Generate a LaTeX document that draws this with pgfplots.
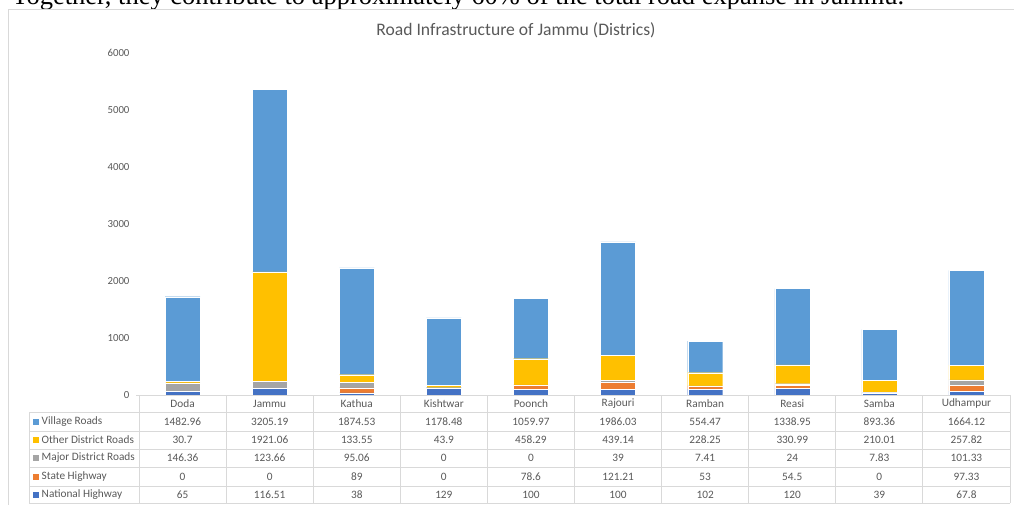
\documentclass[border=0pt]{standalone}
\usepackage{pgfplots}
\pgfplotsset{compat=1.18}
\usepackage{fontspec}
\setmainfont{Carlito}
\newfontfamily\timesfont{Liberation Serif}
\definecolor{vil}{HTML}{5B9BD5}
\definecolor{odr}{HTML}{FFC000}
\definecolor{mdr}{HTML}{A5A5A5}
\definecolor{sh}{HTML}{ED7D31}
\definecolor{nh}{HTML}{4472C4}
\definecolor{txt}{HTML}{595959}
\definecolor{gridc}{HTML}{D9D9D9}
\begin{document}
\begin{tikzpicture}
\useasboundingbox (0pt,0pt) rectangle (1014pt,-504pt);
\clip (0pt,0pt) rectangle (1014pt,-504pt);
\begin{scope}[x=1pt,y=-1pt]
\node[anchor=base west, inner sep=0, font=\timesfont\fontsize{26.5}{30}\selectfont] at (12,4.5) {Together, they contribute to approximately 60\% of the total road expanse in Jammu.};
\draw[gridc, line width=1pt] (8,9) rectangle (1030,530);
\node[font=\fontsize{17.6}{20}\selectfont, text=txt, anchor=base, inner sep=0] at (516,35) {Road Infrastructure of Jammu (Districs)};
\end{scope}
\begin{axis}[
  at={(139pt,-395pt)}, anchor=south west,
  scale only axis, width=871pt, height=342pt,
  xmin=-0.5, xmax=9.5, ymin=0, ymax=6000,
  ybar stacked, bar width=35pt,
  axis line style={draw=none},
  hide x axis,
  ytick={0,1000,2000,3000,4000,5000,6000},
  major tick length=0pt,
  /pgf/number format/1000 sep={},
  /pgf/number format/assume math mode=true,
  yticklabel style={font=\fontsize{10.8}{12}\selectfont, text=txt, xshift=-6pt},
  clip=false,
]
\addplot[fill=nh, draw=white, line width=0.3pt] coordinates {(0,65) (1,116.51) (2,38) (3,129) (4,100) (5,100) (6,102) (7,120) (8,39) (9,67.8)};
\addplot[fill=sh, draw=white, line width=0.3pt] coordinates {(0,0) (1,0) (2,89) (3,0) (4,78.6) (5,121.21) (6,53) (7,54.5) (8,0) (9,97.33)};
\addplot[fill=mdr, draw=white, line width=0.3pt] coordinates {(0,146.36) (1,123.66) (2,95.06) (3,0) (4,0) (5,39) (6,7.41) (7,24) (8,7.83) (9,101.33)};
\addplot[fill=odr, draw=white, line width=0.3pt] coordinates {(0,30.7) (1,1921.06) (2,133.55) (3,43.9) (4,458.29) (5,439.14) (6,228.25) (7,330.99) (8,210.01) (9,257.82)};
\addplot[fill=vil, draw=white, line width=0.3pt] coordinates {(0,1482.96) (1,3205.19) (2,1874.53) (3,1178.48) (4,1059.97) (5,1986.03) (6,554.47) (7,1338.95) (8,893.36) (9,1664.12)};
\end{axis}
\begin{scope}[x=1pt,y=-1pt, every node/.style={font=\fontsize{11.3}{13}\selectfont, text=txt, inner sep=0}]
% table grid
\draw[gridc, line width=1pt] (136,395) -- (1010,395);
\foreach \yy in {412,431,449,467,486,503} \draw[gridc, line width=1pt] (29,\yy) -- (1010,\yy);
\draw[gridc, line width=1pt] (29,412) -- (29,503);
\foreach \k in {0,...,10} \draw[gridc, line width=1pt] (139+87.1*\k,395) -- (139+87.1*\k,503);
% header
\foreach \n [count=\i from 0] in {Doda,Jammu,Kathua,Kishtwar,Poonch,Rajouri,Ramban,Reasi,Samba,Udhampur}
  \node at (182.55+87.1*\i,403.5) {\n};
\foreach \v [count=\i from 0] in {1482.96,3205.19,1874.53,1178.48,1059.97,1986.03,554.47,1338.95,893.36,1664.12}
  \node at (182.55+87.1*\i,421.5) {\v};
\foreach \v [count=\i from 0] in {30.7,1921.06,133.55,43.9,458.29,439.14,228.25,330.99,210.01,257.82}
  \node at (182.55+87.1*\i,440) {\v};
\foreach \v [count=\i from 0] in {146.36,123.66,95.06,0,0,39,7.41,24,7.83,101.33}
  \node at (182.55+87.1*\i,458) {\v};
\foreach \v [count=\i from 0] in {0,0,89,0,78.6,121.21,53,54.5,0,97.33}
  \node at (182.55+87.1*\i,476.5) {\v};
\foreach \v [count=\i from 0] in {65,116.51,38,129,100,100,102,120,39,67.8}
  \node at (182.55+87.1*\i,494.5) {\v};
% legend keys
\foreach \c/\t/\yy in {vil/Village Roads/421.5, odr/Other District Roads/440, mdr/Major District Roads/458, sh/State Highway/476.5, nh/National Highway/494.5}{
  \fill[\c] (33,\yy-3) rectangle (39,\yy+3);
  \node[anchor=west] at (41.5,\yy) {\t};
}
\end{scope}
\end{tikzpicture}
\end{document}
